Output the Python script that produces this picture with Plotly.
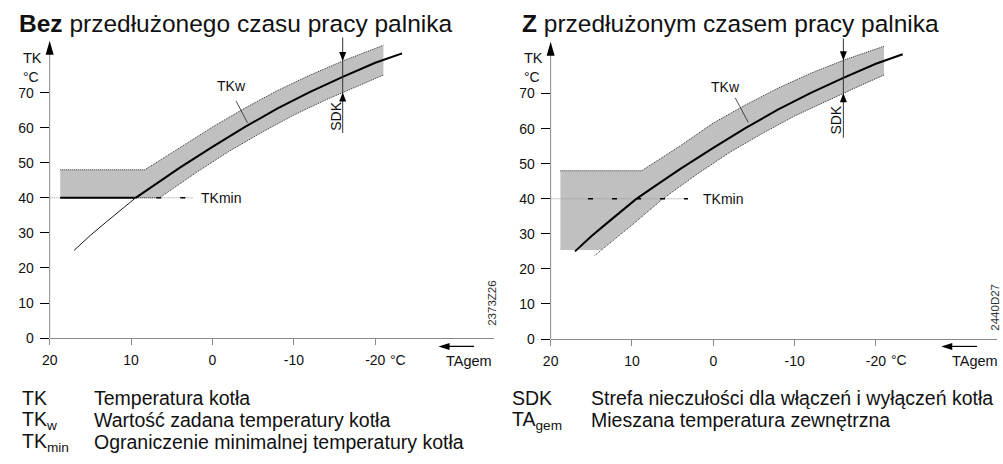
import numpy as np
import plotly.graph_objects as go

W, H = 1003, 464
FONT = "Liberation Sans, Arial, Helvetica, sans-serif"
INK = "#111111"
BAND = "#c0c0c0"
AXIS = "#8a8a8a"

# ---------------------------------------------------------------- data
x_tick_vals = [20, 10, 0, -10, -20]
x_tick_text = ["20", "10", "0", "-10", "-20"]
y_tick_vals = [0, 10, 20, 30, 40, 50, 60, 70]
y_tick_text = ["0", "10", "20", "30", "40", "50", "60", "70"]

titles_bold = ["Bez", "Z"]
titles_rest = [" przedłużonego czasu pracy palnika",
               " przedłużonym czasem pracy palnika"]
drawing_ids = ["2373Z26", "2440D27"]

# boiler temperature setpoint TKw (°C) against mixed outside temperature TAgem (°C)
curve_ta = [17, 15, 13, 11, 9.5, 7, 4, 0, -4, -8, -12, -16, -20, -23.3]
curve_tk = [25, 29.3, 33.2, 37.0, 39.9, 43.9, 48.6, 54.5, 60.2, 65.5, 70.2, 74.5, 78.5, 81.2]

tk_min = 40      # minimum boiler temperature limit
sdk_ta = -16     # where the switching differential is marked

# switching band - without extended burner run
band1_up_ta = [18.7, 8.3, 4, 0, -4, -8, -12, -16, -21]
band1_up_tk = [48, 48, 54.3, 60.2, 65.6, 70.6, 75.0, 79.0, 83.5]
band1_lo_ta = [18.7, 6.5, 2, -2, -6, -10, -14, -18, -21]
band1_lo_tk = [40, 40, 47.2, 53.2, 58.6, 63.6, 68.0, 72.0, 75.0]

# switching band - with extended burner run
band2_up_ta = [18.8, 8.8, 4, 0, -4, -8, -12, -16, -21]
band2_up_tk = [48, 48, 55.2, 61.6, 66.8, 71.6, 75.8, 79.5, 83.5]
band2_lo_ta = [18.8, 13.8, 10, 6.2, 2, -2, -6, -10, -14, -18, -21]
band2_lo_tk = [25.4, 25.4, 32.5, 40, 47, 53.2, 58.6, 63.6, 68.0, 72.2, 75.3]
band2_edge_ta = [14.6, 10, 6.2, 2, -2, -6, -10, -14, -18, -21]
band2_edge_tk = [23.8, 32.5, 40, 47, 53.2, 58.6, 63.6, 68.0, 72.2, 75.3]

# TKmin reference line: end of line, start of black dashes, label position
tkmin_line_end = [2.3, 3.1]
tkmin_dash_start = [6.9, 15.4]
tkmin_label_ta = [1.7, 1.5]

# TKw label and its leader line
tkw_label = [(-2.3, 71.8), (-1.5, 71.8)]
tkw_leader = [((-2.9, 67.6), (-4.3, 61.4)), ((-2.7, 68.8), (-4.3, 61.8))]
sdk_label_tk = [63.3, 62.4]
sdk_line_tk = [(58.5, 85.7), (57.4, 85.7)]

legend_left = [("TK", "Temperatura kotła"),
               ("TK<sub>w</sub>", "Wartość zadana temperatury kotła"),
               ("TK<sub>min</sub>", "Ograniczenie minimalnej temperatury kotła")]
legend_right = [("SDK", "Strefa nieczułości dla włączeń i wyłączeń kotła"),
                ("TA<sub>gem</sub>", "Mieszana temperatura zewnętrzna")]


# ---------------------------------------------------------------- helpers
def px(x):
    return x / W


def py(y):
    return 1 - y / H


def head(xref, yref, x, y, direction, length, half):
    """Filled arrow head whose tip sits at (x, y); size in pixels."""
    if direction == "up":
        path = f"M0,0 L{-half},{-length} L{half},{-length} Z"
    elif direction == "down":
        path = f"M0,0 L{-half},{length} L{half},{length} Z"
    else:  # left
        path = f"M0,0 L{length},{half} L{length},{-half} Z"
    return dict(type="path", xref=xref, yref=yref, xsizemode="pixel", ysizemode="pixel",
                xanchor=x, yanchor=y, path=path, fillcolor="black",
                line=dict(width=0), layer="above")


def text(x, y, s, size, xref="paper", yref="paper", xanchor="left", yanchor="middle",
         angle=0, xshift=0, color=INK):
    return dict(x=x, y=y, xref=xref, yref=yref, text=s, showarrow=False,
                xanchor=xanchor, yanchor=yanchor, textangle=angle, xshift=xshift,
                font=dict(family=FONT, size=size, color=color))


panels = [
    dict(xa="x", ya="y", xdom=[px(42), px(490)], xrange=[20, -34.6],
         ydom=[py(344), py(30)],
         up=(band1_up_ta, band1_up_tk), lo=(band1_lo_ta, band1_lo_tk),
         edge=(band1_lo_ta, band1_lo_tk), thin_below_min=True,
         title_x=9, id_y=309, id_x=488, tagem_right=490),
    dict(xa="x2", ya="y2", xdom=[px(547), px(997)], xrange=[20, -34.9],
         ydom=[py(345), py(31)],
         up=(band2_up_ta, band2_up_tk), lo=(band2_lo_ta, band2_lo_tk),
         edge=(band2_edge_ta, band2_edge_tk), thin_below_min=False,
         title_x=516, id_y=313, id_x=995, tagem_right=1000),
]

fig = go.Figure()
shapes, annos = [], []
line_kw = dict(mode="lines", hoverinfo="skip", showlegend=False)

for i, p in enumerate(panels):
    xa, ya = p["xa"], p["ya"]
    up_ta, up_tk = p["up"]
    lo_ta, lo_tk = p["lo"]
    ed_ta, ed_tk = p["edge"]

    # grey switching band
    fig.add_trace(go.Scatter(x=up_ta + lo_ta[::-1], y=up_tk + lo_tk[::-1],
                             fill="toself", fillcolor=BAND, line=dict(width=0),
                             xaxis=xa, yaxis=ya, **line_kw))

    # TKmin reference line (light dotted with black dashes)
    fig.add_trace(go.Scatter(x=[20, tkmin_line_end[i]], y=[tk_min, tk_min],
                             line=dict(color="#9a9a9a", width=1, dash="1px,1px"),
                             xaxis=xa, yaxis=ya, **line_kw))
    fig.add_trace(go.Scatter(x=[tkmin_dash_start[i], tkmin_line_end[i]], y=[tk_min, tk_min],
                             line=dict(color="black", width=1.5, dash="5px,19px"),
                             xaxis=xa, yaxis=ya, **line_kw))

    # dotted band edges
    fig.add_trace(go.Scatter(x=up_ta, y=up_tk,
                             line=dict(color="#2a2a2a", width=1, dash="1px,1px"),
                             xaxis=xa, yaxis=ya, **line_kw))
    fig.add_trace(go.Scatter(x=ed_ta, y=ed_tk,
                             line=dict(color="#2a2a2a", width=1, dash="1px,1px"),
                             xaxis=xa, yaxis=ya, **line_kw))

    # setpoint curve TKw
    cross_ta = float(np.interp(tk_min, curve_tk, curve_ta))
    if p["thin_below_min"]:
        thin = [k for k, t in enumerate(curve_ta) if t >= cross_ta]
        thick = [k for k, t in enumerate(curve_ta) if t < cross_ta]
        fig.add_trace(go.Scatter(x=[curve_ta[k] for k in thin] + [cross_ta],
                                 y=[curve_tk[k] for k in thin] + [tk_min],
                                 line=dict(color="black", width=0.9),
                                 xaxis=xa, yaxis=ya, **line_kw))
        fig.add_trace(go.Scatter(x=[cross_ta] + [curve_ta[k] for k in thick],
                                 y=[tk_min] + [curve_tk[k] for k in thick],
                                 line=dict(color="black", width=2),
                                 xaxis=xa, yaxis=ya, **line_kw))
        # curve held at TKmin
        fig.add_trace(go.Scatter(x=[up_ta[0], cross_ta], y=[tk_min, tk_min],
                                 line=dict(color="black", width=2),
                                 xaxis=xa, yaxis=ya, **line_kw))
    else:
        fig.add_trace(go.Scatter(x=curve_ta, y=curve_tk,
                                 line=dict(color="black", width=2),
                                 xaxis=xa, yaxis=ya, **line_kw))

    # y axis line with arrow
    y_top = 84.8
    shapes.append(dict(type="line", xref=f"{xa} domain", yref=ya, x0=0, x1=0,
                       y0=0, y1=y_top - 3, line=dict(color=AXIS, width=1)))
    shapes.append(head(f"{xa} domain", ya, 0, y_top, "up", 14, 4))

    # SDK marker
    s0, s1 = sdk_line_tk[i]
    shapes.append(dict(type="line", xref=xa, yref=ya, x0=sdk_ta, x1=sdk_ta, y0=s0, y1=s1,
                       line=dict(color="#333333", width=1)))
    up_at = float(np.interp(-sdk_ta, [-t for t in up_ta], up_tk))
    lo_at = float(np.interp(-sdk_ta, [-t for t in ed_ta], ed_tk))
    shapes.append(head(xa, ya, sdk_ta, up_at, "down", 9, 3.5))
    shapes.append(head(xa, ya, sdk_ta, lo_at, "up", 9, 3.5))
    annos.append(text(sdk_ta, sdk_label_tk[i], "SDK", 14, xref=xa, yref=ya,
                      xanchor="center", angle=-90, xshift=-7))

    # TKw label with leader
    (a0, b0), (a1, b1) = tkw_leader[i]
    shapes.append(dict(type="line", xref=xa, yref=ya, x0=a0, y0=b0, x1=a1, y1=b1,
                       line=dict(color="#222222", width=0.8)))
    annos.append(text(tkw_label[i][0], tkw_label[i][1], "TKw", 14, xref=xa, yref=ya,
                      xanchor="center"))
    annos.append(text(tkmin_label_ta[i], tk_min, "TKmin", 14, xref=xa, yref=ya))

    # outside-temperature direction arrow
    shapes.append(dict(type="line", xref=f"{xa} domain", yref="paper", x0=0.885, x1=0.955,
                       y0=py(352.5), y1=py(352.5), line=dict(color="black", width=1.2)))
    shapes.append(head(f"{xa} domain", "paper", 0.875, py(352.5), "left", 11, 3.5))

    # titles and axis captions
    x_left = p["xdom"][0]
    annos.append(text(px(p["title_x"]), py(24), f"<b>{titles_bold[i]}</b>{titles_rest[i]}", 24.5))
    annos.append(text(x_left - px(29), py(59), "TK", 14.5))
    annos.append(text(x_left - px(29), py(78), "°C", 14))
    annos.append(text(-20, py(366), "°C", 14, xref=xa, xanchor="left", xshift=13))
    annos.append(text(px(p["tagem_right"]), py(367), "TAgem", 14.5, xanchor="right"))
    annos.append(text(px(p["id_x"]), py(p["id_y"]), drawing_ids[i], 11.5,
                      xanchor="center", angle=-90, color="#333333"))

# legend text beneath the charts
for r, (abbr, desc) in enumerate(legend_left):
    annos.append(text(px(12), py(405 + 22.5 * r), abbr, 19.5))
    annos.append(text(px(85), py(405 + 22.5 * r), desc, 19.5))
for r, (abbr, desc) in enumerate(legend_right):
    annos.append(text(px(506), py(405 + 22.5 * r), abbr, 19.5))
    annos.append(text(px(586), py(405 + 22.5 * r), desc, 19.5))

layout = dict(width=W, height=H, margin=dict(l=0, r=0, t=0, b=0),
              paper_bgcolor="white", plot_bgcolor="rgba(0,0,0,0)",
              font=dict(family=FONT, size=14, color=INK),
              shapes=shapes, annotations=annos, showlegend=False)

for i, p in enumerate(panels):
    sfx = "" if i == 0 else "2"
    layout[f"xaxis{sfx}"] = dict(domain=p["xdom"], range=p["xrange"], anchor=p["ya"],
                                 tickvals=x_tick_vals, ticktext=x_tick_text,
                                 ticks="outside", ticklen=6, tickcolor=AXIS,
                                 ticklabelstandoff=3,
                                 showline=True, linecolor=AXIS, linewidth=1,
                                 showgrid=False, zeroline=False,
                                 tickfont=dict(size=14, color=INK), fixedrange=True)
    layout[f"yaxis{sfx}"] = dict(domain=p["ydom"], range=[0, 88], anchor=p["xa"],
                                 tickvals=y_tick_vals, ticktext=y_tick_text,
                                 ticks="outside", ticklen=9, tickcolor="black",
                                 ticklabelstandoff=3,
                                 showline=False, showgrid=False, zeroline=False,
                                 tickfont=dict(size=14, color=INK), fixedrange=True)

fig.update_layout(**layout)
fig.write_html("out.html", config=dict(displayModeBar=False))
